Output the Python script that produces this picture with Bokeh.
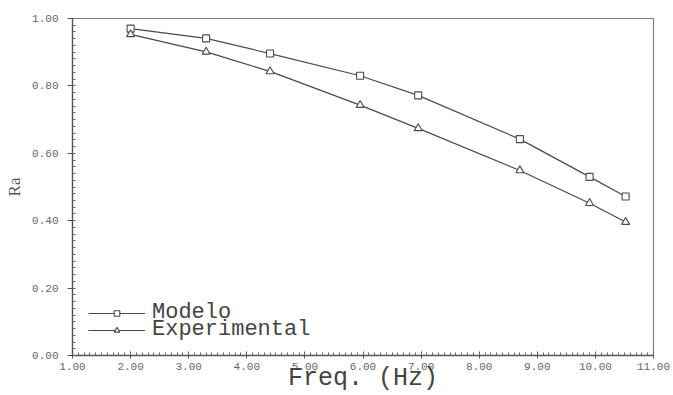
from bokeh.plotting import figure
from bokeh.models import (Range1d, SingleIntervalTicker, NumeralTickFormatter,
                          Legend, LegendItem)
from bokeh.embed import file_html
from bokeh.resources import INLINE

# data
freq = [2.0, 3.3, 4.4, 5.95, 6.95, 8.7, 9.9, 10.52]
modelo = [0.970, 0.941, 0.896, 0.830, 0.772, 0.642, 0.530, 0.472]
experimental = [0.953, 0.901, 0.843, 0.743, 0.674, 0.549, 0.452, 0.396]

x_label = "Freq. (Hz)"
y_label = "Ra"
series_names = ["Modelo", "Experimental"]

INK = "#4a4a4a"

p = figure(width=673, height=395, output_backend="svg", toolbar_location=None,
           x_range=Range1d(1, 11), y_range=Range1d(0, 1.0),
           min_border_left=72, min_border_right=20, min_border_top=18,
           min_border_bottom=40)
p.xgrid.visible = False
p.ygrid.visible = False
p.outline_line_color = "#808080"
p.outline_line_width = 1.2
p.background_fill_color = "white"
p.border_fill_color = "white"

# axes
p.xaxis.ticker = SingleIntervalTicker(interval=1, num_minor_ticks=10)
p.yaxis.ticker = SingleIntervalTicker(interval=0.2, num_minor_ticks=10)
p.xaxis.formatter = NumeralTickFormatter(format="0.00")
p.yaxis.formatter = NumeralTickFormatter(format="0.00")
for ax in (p.xaxis[0], p.yaxis[0]):
    ax.axis_line_color = "#555555"
    ax.axis_line_width = 1.3
    ax.major_tick_line_color = "#555555"
    ax.minor_tick_line_color = "#666666"
    ax.major_label_text_font = "Liberation Mono"
    ax.major_label_text_font_size = "11px"
    ax.major_label_text_color = "#666666"
p.xaxis.major_tick_out = 3
p.xaxis.major_tick_in = 4
p.xaxis.minor_tick_in = 3
p.xaxis.minor_tick_out = 0
p.xaxis.major_label_standoff = 4
p.yaxis.major_tick_out = 5
p.yaxis.major_tick_in = 0
p.yaxis.minor_tick_in = 3
p.yaxis.minor_tick_out = 0
p.yaxis.major_label_standoff = 9

p.yaxis.axis_label = y_label
p.yaxis.axis_label_text_font = "Liberation Serif"
p.yaxis.axis_label_text_font_style = "normal"
p.yaxis.axis_label_text_font_size = "17px"
p.yaxis.axis_label_text_color = "#555555"
p.yaxis.axis_label_standoff = 5

p.xaxis.axis_label = x_label
p.xaxis.axis_label_text_font = "Liberation Mono"
p.xaxis.axis_label_text_font_style = "normal"
p.xaxis.axis_label_text_font_size = "25px"
p.xaxis.axis_label_text_color = "#444444"
p.xaxis.axis_label_standoff = -9

# series
l1 = p.line(freq, modelo, line_color=INK, line_width=1.2)
m1 = p.scatter(freq, modelo, marker="square", size=7, fill_color="white",
               line_color=INK, line_width=1.1)
l2 = p.line(freq, experimental, line_color=INK, line_width=1.2)
m2 = p.scatter(freq, experimental, marker="triangle", size=8, fill_color="white",
               line_color=INK, line_width=1.1)

def make_legend(item, loc):
    lg = Legend(items=[item], location=loc, orientation="vertical",
                glyph_width=57, glyph_height=14, label_standoff=7,
                padding=0, margin=0, spacing=0,
                border_line_alpha=0, background_fill_alpha=0,
                label_text_font="Liberation Mono", label_text_font_size="22px",
                label_text_color="#444444")
    return lg

p.add_layout(make_legend(LegendItem(label=series_names[0], renderers=[l1, m1]), (16, 30)))
p.add_layout(make_legend(LegendItem(label=series_names[1], renderers=[l2, m2]), (16, 13)))

open("out.html", "w").write(file_html(p, INLINE))
